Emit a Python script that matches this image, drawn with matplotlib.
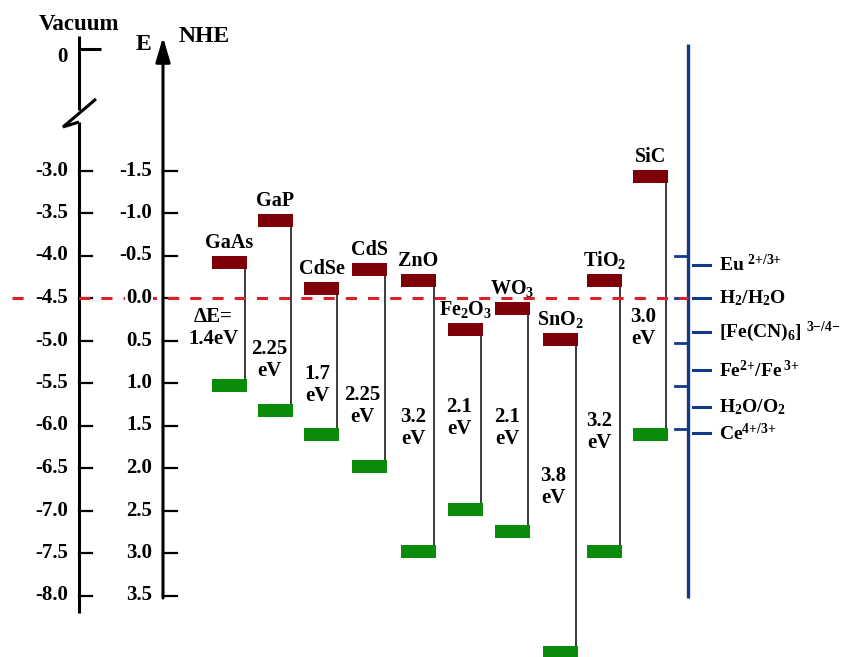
import numpy as np
import matplotlib.pyplot as plt

plt.rcParams['font.family'] = ['Liberation Serif', 'DejaVu Serif']
plt.rcParams['font.weight'] = 'bold'
plt.rcParams['mathtext.default'] = 'regular'
plt.rcParams['lines.scale_dashes'] = False

# band edges (V vs NHE)
materials = ['GaAs', 'GaP', 'CdSe', 'CdS', 'ZnO', 'Fe$_2$O$_3$', 'WO$_3$',
             'SnO$_2$', 'TiO$_2$', 'SiC']
cb_edge = [-0.42, -0.91, -0.11, -0.33, -0.21, 0.37, 0.12, 0.49, -0.21, -1.43]
vb_edge = [1.03, 1.32, 1.60, 1.98, 2.98, 2.49, 2.75, 4.17, 2.98, 1.61]
gap_text = ['\u0394E=\n1.4eV', '2.25\neV', '1.7\neV', '2.25\neV', '3.2\neV',
            '2.1\neV', '2.1\neV', '3.8\neV', '3.2\neV', '3.0\neV']

nhe_ticks = [-1.5, -1.0, -0.5, 0.0, 0.5, 1.0, 1.5, 2.0, 2.5, 3.0, 3.5]
vac_ticks = [-4.5 - v for v in nhe_ticks]

# redox couples on the right-hand scale
redox_names = ['Eu$^{\\ 2{+}/3{+}}$', 'H$_2$/H$_2$O', '[Fe(CN)$_6$]$^{\\ 3{-}/4{-}}$',
               'Fe$^{2{+}}$/Fe$^{\\,3{+}}$', 'H$_2$O/O$_2$', 'Ce$^{4{+}/3{+}}$']
redox_pot = [-0.39, 0.0, 0.40, 0.85, 1.28, 1.59]
scale_marks = [-0.5, 0.0, 0.53, 1.04, 1.54]

# layout (horizontal units are pixels, vertical is NHE)
Y0, PX = 298, 85.0


def py(p):
    return (p - Y0) / PX


bar_x = np.array([212, 258, 304, 352, 401, 448, 495, 543, 587, 633])
bar_w = 35
bar_h = 13 / PX
gap_xy = [(213, 328), (269, 360), (317, 385), (362, 406), (413, 428),
          (459, 418), (507, 428), (553, 487), (599, 432), (643, 328)]

red = '#7d0008'
green = '#0a8c0a'
blue = '#123a8c'

fig = plt.figure(figsize=(8.55, 6.57), dpi=100)
ax = fig.add_axes([0, 0, 1, 1])
ax.set_xlim(0, 855)
ax.set_ylim(py(657), py(0))
ax.axis('off')

# conduction / valence band edges
ax.bar(bar_x, bar_h, bottom=np.array(cb_edge) - bar_h / 2, width=bar_w,
       align='edge', color=red, zorder=3)
ax.bar(bar_x, bar_h, bottom=np.array(vb_edge) - bar_h / 2, width=bar_w,
       align='edge', color=green, zorder=3)
ax.vlines(bar_x + bar_w - 2, cb_edge, vb_edge, color='#1a1a1a', lw=1.2, zorder=2)

for x, cb, name in zip(bar_x, cb_edge, materials):
    ax.annotate(name, (x + bar_w / 2, cb - bar_h / 2), xytext=(0, 3),
                textcoords='offset pixels', ha='center', va='bottom', fontsize=14.5)

for (gx, gy), t in zip(gap_xy, gap_text):
    ax.text(gx, py(gy), t, ha='center', va='center', fontsize=15, linespacing=1.1)

k = dict(color='k', lw=2.2, solid_capstyle='butt', solid_joinstyle='miter', zorder=4)

# vacuum scale with break
ax.plot([79, 79], [py(36), py(110)], **k)
ax.plot([96, 63, 79], [py(99), py(127), py(122)], **k)
ax.plot([79, 79], [py(122), py(613)], **k)
ax.plot([79, 101], [py(49), py(49)], **k)
ax.text(62, py(57), '0', ha='center', va='center', fontsize=15)
ax.text(79, py(24), 'Vacuum', ha='center', va='center', fontsize=16.5)

# NHE scale
ax.annotate('', xy=(163, py(37)), xytext=(163, py(598)),
            arrowprops=dict(arrowstyle='-|>,head_length=0.75,head_width=0.22',
                            lw=2.2, color='k', shrinkA=0, shrinkB=0,
                            mutation_scale=20), zorder=4)
ax.text(143, py(45), 'E', ha='center', va='center', fontsize=17)
ax.text(204, py(37), 'NHE', ha='center', va='center', fontsize=17)

for v, vac in zip(nhe_ticks, vac_ticks):
    ax.plot([79, 92], [v, v], color='k', lw=1.6, zorder=4)
    ax.plot([163, 177], [v, v], color='k', lw=1.6, zorder=4)
    ax.text(68, v, f'{vac:.1f}', ha='right', va='center', fontsize=15, zorder=6,
            bbox=dict(fc='white', ec='none', pad=1))
    ax.text(152, v, f'{v:.1f}', ha='right', va='center', fontsize=15, zorder=6,
            bbox=dict(fc='white', ec='none', pad=1))

# H+/H2 level
ax.plot([12, 688], [0, 0], color='#dd2025', lw=2.2, dashes=(8, 8), zorder=5)

# redox scale
ax.plot([688, 688], [py(44), py(598)], color=blue, lw=2.4, solid_capstyle='butt', zorder=4)
for v in scale_marks:
    ax.plot([675, 688], [v, v], color=blue, lw=2, zorder=4)
for v, name in zip(redox_pot, redox_names):
    ax.plot([693, 710], [v, v], color=blue, lw=2.2, zorder=4)
    ax.text(719, v, name, ha='left', va='center', fontsize=14)

fig.savefig('out.png', dpi=100)
